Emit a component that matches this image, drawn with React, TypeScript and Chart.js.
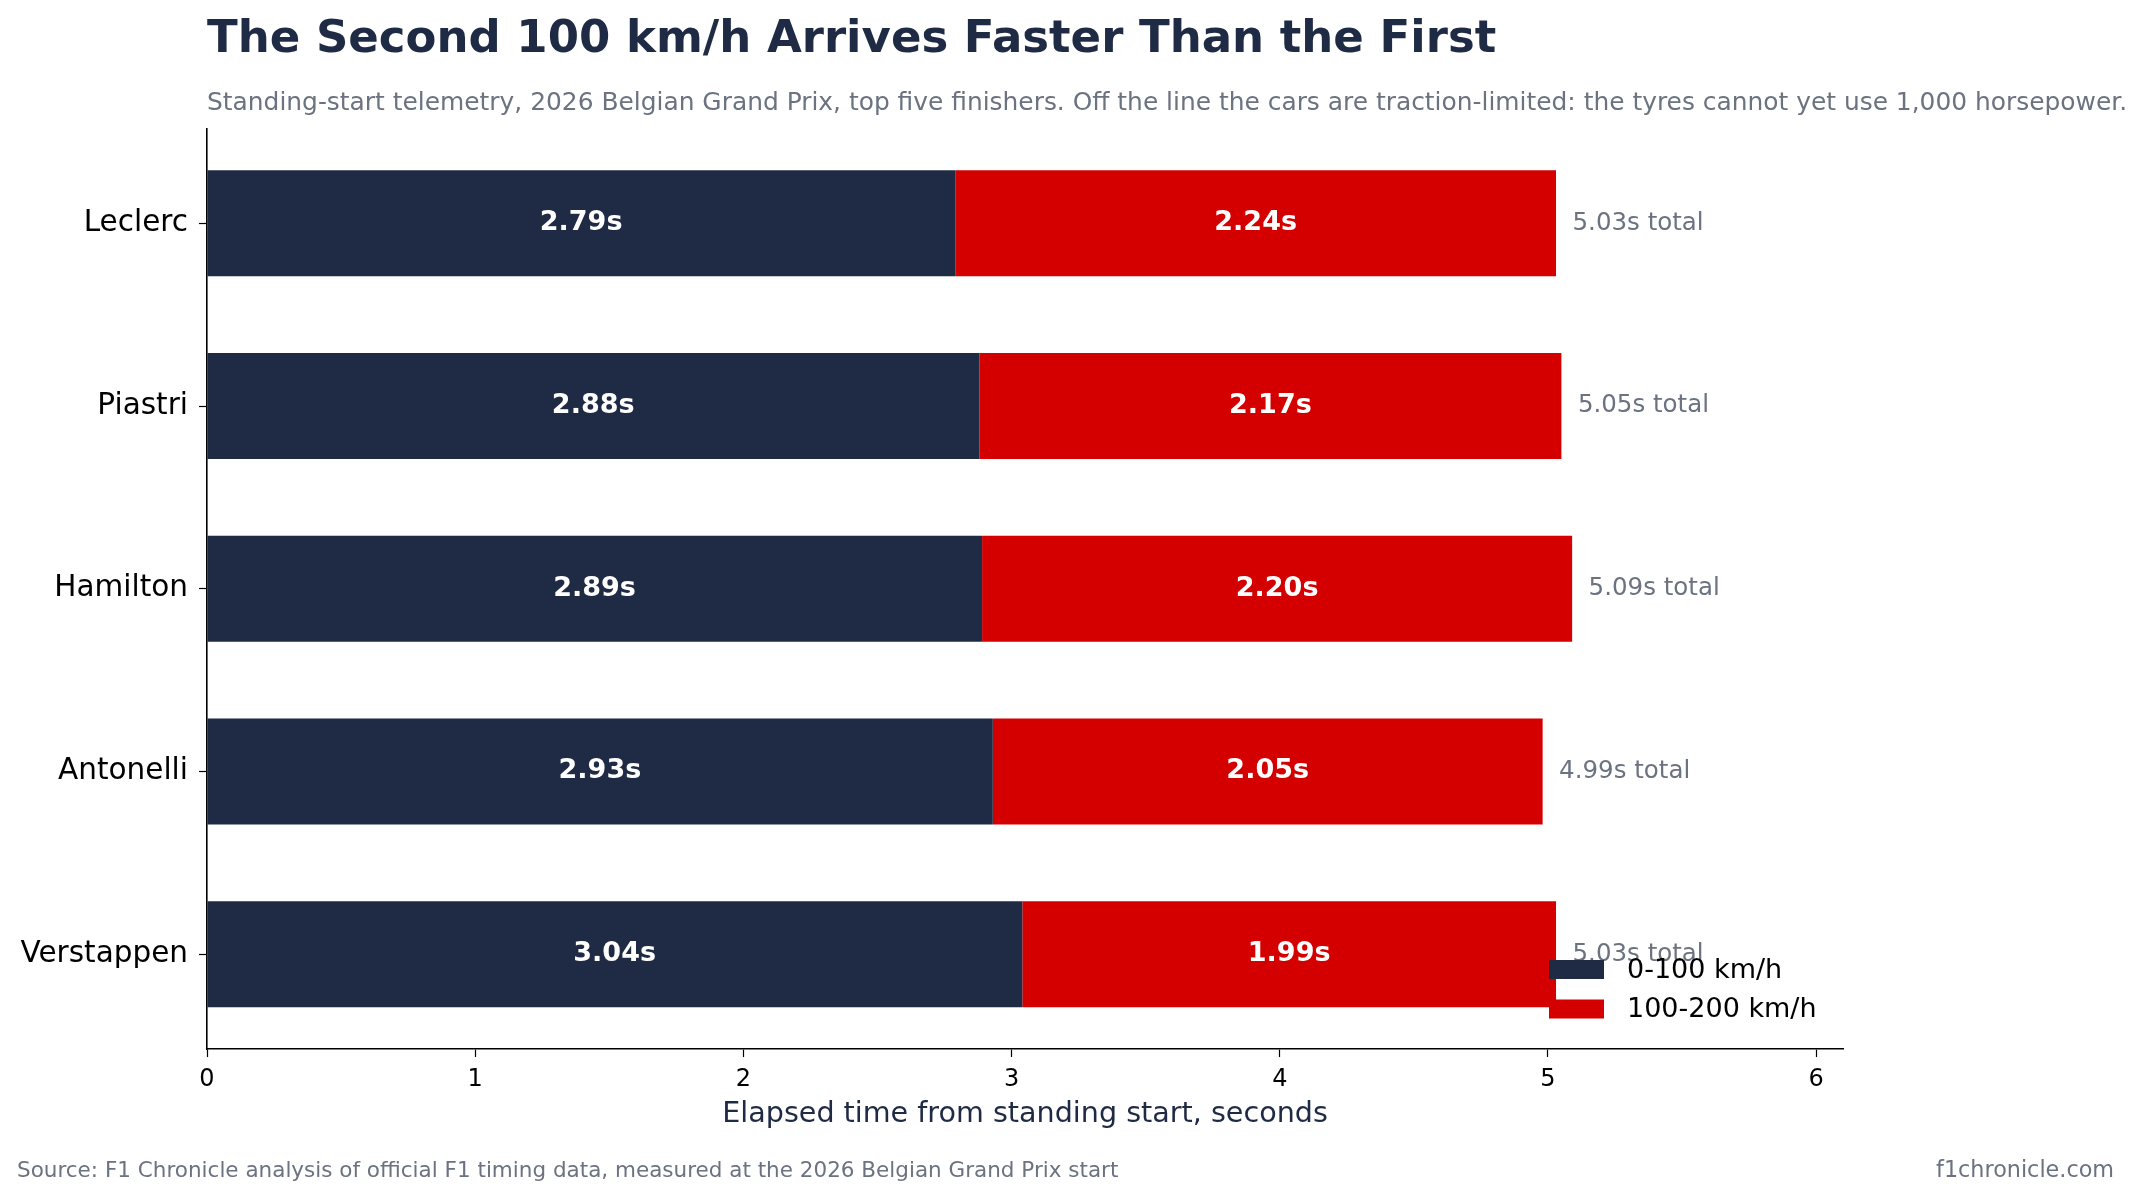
import React, { useEffect, useRef } from "react";
import { Chart, registerables } from "chart.js";

Chart.register(...registerables);

const drivers = ["Leclerc", "Piastri", "Hamilton", "Antonelli", "Verstappen"];
const firstHundred = [2.79, 2.88, 2.89, 2.93, 3.04];
const secondHundred = [2.24, 2.17, 2.2, 2.05, 1.99];
const totals = [5.03, 5.05, 5.09, 4.99, 5.03];
const xTicks = [0, 1, 2, 3, 4, 5, 6];
const seriesNames = ["0-100 km/h", "100-200 km/h"];

const TITLE = "The Second 100 km/h Arrives Faster Than the First";
const SUBTITLE =
  "Standing-start telemetry, 2026 Belgian Grand Prix, top five finishers. Off the line the cars are traction-limited: the tyres cannot yet use 1,000 horsepower.";
const X_TITLE = "Elapsed time from standing start, seconds";
const SOURCE = "Source: F1 Chronicle analysis of official F1 timing data, measured at the 2026 Belgian Grand Prix start";
const BRAND = "f1chronicle.com";

const NAVY = "#1f2a44";
const RED = "#d40000";
const GREY = "#6b7280";
const FONT = "'DejaVu Sans'";

const W = 2149;
const H = 1200;

const annotations = {
  id: "annotations",
  afterDatasetsDraw(chart: any) {
    const ctx = chart.ctx;
    const xs = chart.scales.x;
    const ys = chart.scales.y;
    ctx.save();
    ctx.textBaseline = "middle";
    drivers.forEach((_, i) => {
      const yc = ys.getPixelForValue(i);
      const x0 = xs.getPixelForValue(0);
      const x1 = xs.getPixelForValue(firstHundred[i]);
      const x2 = xs.getPixelForValue(firstHundred[i] + secondHundred[i]);
      ctx.font = `bold 27px ${FONT}`;
      ctx.fillStyle = "#ffffff";
      ctx.textAlign = "center";
      ctx.fillText(firstHundred[i].toFixed(2) + "s", (x0 + x1) / 2, yc);
      ctx.fillText(secondHundred[i].toFixed(2) + "s", (x1 + x2) / 2, yc);
      ctx.font = `24.5px ${FONT}`;
      ctx.fillStyle = GREY;
      ctx.textAlign = "left";
      ctx.fillText(totals[i].toFixed(2) + "s total", x2 + 16.5, yc);
    });
    ctx.restore();
  },
  afterDraw(chart: any) {
    const ctx = chart.ctx;
    const area = chart.chartArea;
    ctx.save();
    ctx.textBaseline = "alphabetic";
    // title
    ctx.textAlign = "left";
    ctx.fillStyle = NAVY;
    ctx.font = `bold 45px ${FONT}`;
    ctx.fillText(TITLE, area.left, 52);
    // subtitle
    ctx.fillStyle = GREY;
    ctx.font = `24.9px ${FONT}`;
    ctx.fillText(SUBTITLE, area.left, 110);
    // x axis title
    ctx.textAlign = "center";
    ctx.fillStyle = NAVY;
    ctx.font = `28.6px ${FONT}`;
    ctx.fillText(X_TITLE, (area.left + area.right) / 2, 1122);
    // footer
    ctx.fillStyle = GREY;
    ctx.font = `21.5px ${FONT}`;
    ctx.textAlign = "left";
    ctx.fillText(SOURCE, 17, 1177);
    ctx.font = `22.3px ${FONT}`;
    ctx.textAlign = "right";
    ctx.fillText(BRAND, 2114, 1177);
    // legend
    const colors = [NAVY, RED];
    const hx = area.right - 294;
    const rows = [area.bottom - 79.5, area.bottom - 40];
    ctx.textAlign = "left";
    ctx.textBaseline = "middle";
    ctx.font = `27px ${FONT}`;
    seriesNames.forEach((name, k) => {
      ctx.fillStyle = colors[k];
      ctx.fillRect(hx, rows[k] - 9.5, 55, 19);
      ctx.fillStyle = "#000000";
      ctx.fillText(name, hx + 78, rows[k] + 1);
    });
    ctx.restore();
  },
};

export default function App() {
  const canvasRef = useRef<HTMLCanvasElement | null>(null);

  useEffect(() => {
    document.body.style.margin = "0";
    document.body.style.background = "#ffffff";
    const canvas = canvasRef.current;
    if (!canvas) return;
    Chart.defaults.font.family = FONT;

    const chart = new Chart(canvas, {
      type: "bar",
      data: {
        datasets: [
          {
            label: seriesNames[0],
            data: firstHundred.map((v, i) => ({ x: v, y: i })),
            backgroundColor: NAVY,
            borderWidth: 0,
            barPercentage: 0.58,
            categoryPercentage: 1,
            stack: "s",
          },
          {
            label: seriesNames[1],
            data: secondHundred.map((v, i) => ({ x: v, y: i })),
            backgroundColor: RED,
            borderWidth: 0,
            barPercentage: 0.58,
            categoryPercentage: 1,
            stack: "s",
          },
        ],
      },
      options: {
        indexAxis: "y",
        responsive: false,
        animation: false,
        devicePixelRatio: 1,
        events: [],
        layout: { padding: { left: 0, top: 128.5, right: 306, bottom: 0 } },
        plugins: {
          legend: { display: false },
          title: { display: false },
          tooltip: { enabled: false },
        },
        scales: {
          x: {
            type: "linear",
            min: 0,
            max: 6.1,
            stacked: true,
            z: 1,
            afterBuildTicks: (s: any) => {
              s.ticks = xTicks.map((v) => ({ value: v }));
            },
            afterFit: (s: any) => {
              s.height = 151;
            },
            ticks: {
              color: "#000000",
              font: { size: 24, family: FONT },
              padding: 8,
              maxRotation: 0,
              callback: (v: any) => String(v),
            },
            grid: {
              display: true,
              drawOnChartArea: false,
              drawTicks: true,
              tickLength: 8,
              tickColor: "#000000",
              tickWidth: 1.2,
              offset: false,
            },
            border: { display: true, color: "#000000", width: 1.6 },
          },
          y: {
            type: "linear",
            min: -0.519,
            max: 4.519,
            reverse: true,
            offset: false,
            stacked: true,
            z: 1,
            afterBuildTicks: (s: any) => {
              s.ticks = drivers.map((_, i) => ({ value: i }));
            },
            afterFit: (s: any) => {
              s.width = 207;
            },
            ticks: {
              color: "#000000",
              font: { size: 29.5, family: FONT },
              padding: 11,
              callback: (v: any) => drivers[v] ?? "",
            },
            grid: {
              display: true,
              drawOnChartArea: false,
              drawTicks: true,
              tickLength: 8,
              tickColor: "#000000",
              tickWidth: 1.2,
              offset: false,
            },
            border: { display: true, color: "#000000", width: 1.6 },
          },
        },
      },
      plugins: [annotations],
    } as any);

    return () => {
      chart.destroy();
    };
  }, []);

  return (
    <div style={{ position: "absolute", left: 0, top: 0, width: W, height: H, background: "#ffffff" }}>
      <canvas ref={canvasRef} width={W} height={H} style={{ display: "block", width: W, height: H }} />
    </div>
  );
}
